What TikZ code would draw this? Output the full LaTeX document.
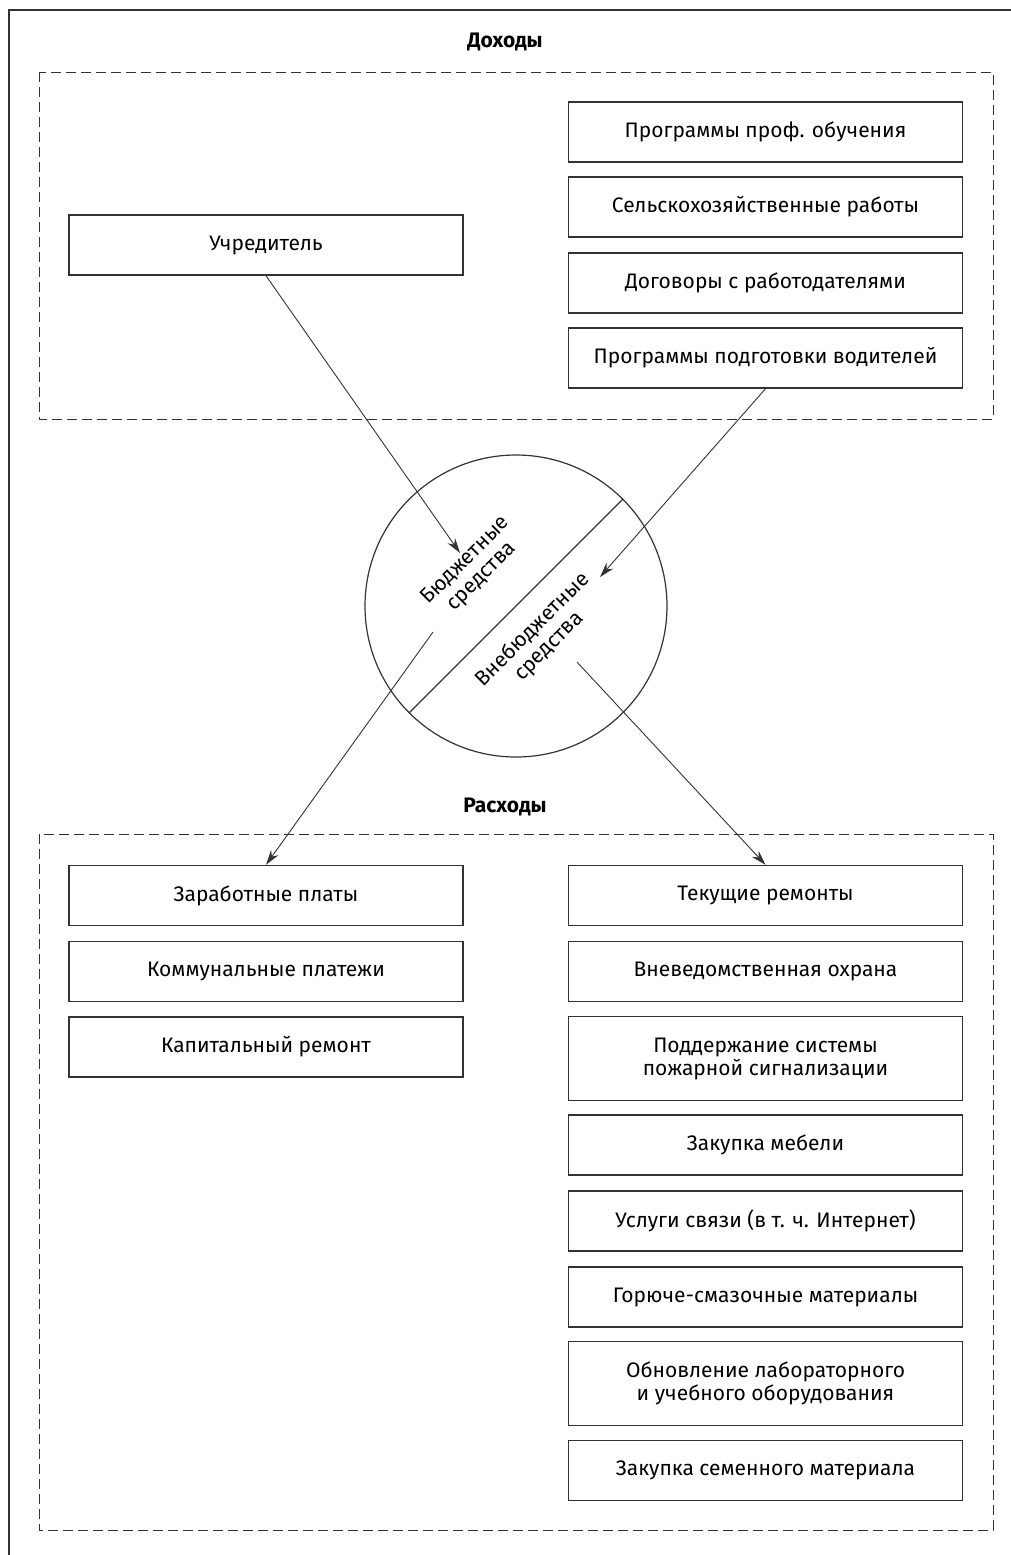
\documentclass[tikz,border=0pt]{standalone}
\usepackage{fontspec}
\setmainfont{Fira Sans}
\usetikzlibrary{arrows.meta,positioning}
\definecolor{lineGray}{gray}{0.2}
\tikzset{
    box/.style={draw=lineGray, line width=0.7pt, minimum width=197pt, minimum height=30pt,
        inner sep=2pt, align=center, font=\fontsize{10.5}{11.5}\selectfont},
    tallbox/.style={box, minimum height=42pt},
    fund/.style={circle, draw=lineGray, line width=0.6pt, minimum size=151pt, inner sep=0pt},
    fundtext/.style={rotate=45, align=center, inner sep=0pt, font=\fontsize{10.5}{11.5}\selectfont},
    zone/.style={draw=lineGray, line width=0.5pt, dash pattern=on 5pt off 2.5pt},
    title/.style={font=\fontsize{10.5}{12}\selectfont\bfseries},
    flow/.style={-{Stealth[length=7.5pt,width=4.5pt]}, line width=0.45pt, lineGray}
}

\begin{document}
\begin{tikzpicture}[x=0.5pt,y=-0.5pt]
\useasboundingbox (0,0) rectangle (1011,1555);
% frame
\draw[lineGray, line width=0.6pt] (1011,10) -- (9,10) -- (9,1555);

% incomes
\node[title] (inc) at (505,42) {Доходы};
\draw[zone] (39,72) rectangle (993,419);
\node[box] (uch) at (266,245) {Учредитель};
\node[box] (prof) at (765.5,132) {Программы проф. обучения};
\node[box] (agro) at (765.5,207) {Сельскохозяйственные работы};
\node[box] (empl) at (765.5,283) {Договоры с работодателями};
\node[box] (drv)  at (765.5,358) {Программы подготовки водителей};

% funds
\node[fund] (fund) at (516,606) {};
\draw[lineGray, line width=0.6pt] (fund.45) -- (fund.225);
\node[fundtext] (bud) at (474,569) {Бюджетные\\средства};
\node[fundtext] (ext) at (541,638) {Внебюджетные\\средства};
\coordinate (budIn) at (460,553);
\coordinate (extIn) at (600,577);
\coordinate (budOut) at (433,632);
\coordinate (extOut) at (577,662);

% expenses
\node[title] (exp) at (505,807) {Расходы};
\draw[zone] (39,834) rectangle (993,1530);
\node[box] (wage) at (266,895.5) {Заработные платы};
\node[box] (util) at (266,971.5) {Коммунальные платежи};
\node[box] (capr) at (266,1047) {Капитальный ремонт};
\node[box] (cur)  at (765.5,895.5) {Текущие ремонты};
\node[box] (grd)  at (765.5,971.5) {Вневедомственная охрана};
\node[tallbox] (fire) at (765.5,1058.5) {Поддержание системы\\пожарной сигнализации};
\node[box] (furn) at (765.5,1145) {Закупка мебели};
\node[box] (comm) at (765.5,1221) {Услуги связи (в т. ч. Интернет)};
\node[box] (fuel) at (765.5,1297) {Горюче-смазочные материалы};
\node[tallbox] (lab) at (765.5,1383.5) {Обновление лабораторного\\и учебного оборудования};
\node[box] (seed) at (765.5,1470.5) {Закупка семенного материала};

% flows
\draw[flow] (uch.south) -- (budIn);
\draw[flow] (drv.south) -- (extIn);
\draw[flow] (budOut) -- (wage.north);
\draw[flow] (extOut) -- (cur.north);
\end{tikzpicture}
\end{document}
